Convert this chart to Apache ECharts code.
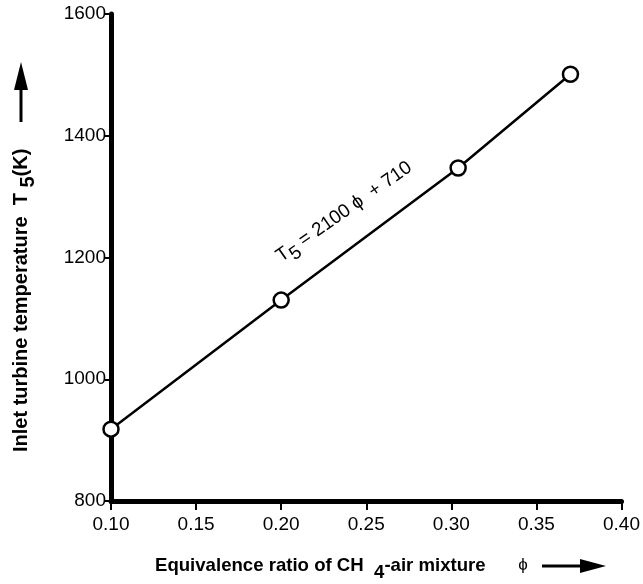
<!DOCTYPE html>
<html lang="en">
<head>
    <meta charset="UTF-8">
    <title>Inlet turbine temperature</title>
    <script src="https://cdn.jsdelivr.net/npm/echarts@6/dist/echarts.min.js"></script>
    <style>
        html, body { margin: 0; padding: 0; background: #fff; }
    </style>
</head>
<body>
    <div id="main" style="width: 643px;height: 584px"></div>
    <script type="text/javascript">
        // data
        var phi = [0.10, 0.20, 0.304, 0.370];
        var temp = [918, 1130, 1347, 1501];
        var xTicks = [0.10, 0.15, 0.20, 0.25, 0.30, 0.35, 0.40];
        var yTicks = [800, 1000, 1200, 1400, 1600];

        var font = '"Liberation Sans", Arial, sans-serif';
        var myChart = echarts.init(document.getElementById('main'));

        var points = phi.map(function (p, i) { return [p, temp[i]]; });

        var option = {
            backgroundColor: '#fff',
            animation: false,
            grid: { left: 111, right: 21, top: 14, bottom: 83 },
            xAxis: {
                type: 'value',
                min: xTicks[0],
                max: xTicks[xTicks.length - 1],
                interval: 0.05,
                axisLine: { show: true, lineStyle: { color: '#000', width: 5 } },
                axisTick: { show: true, length: 9, lineStyle: { color: '#000', width: 2 } },
                axisLabel: {
                    color: '#000', fontFamily: font, fontSize: 19, margin: 14,
                    formatter: function (v) { return v.toFixed(2); }
                },
                splitLine: { show: false }
            },
            yAxis: {
                type: 'value',
                min: yTicks[0],
                max: yTicks[yTicks.length - 1],
                interval: 200,
                axisLine: { show: true, lineStyle: { color: '#000', width: 5 } },
                axisTick: { show: true, length: 6, lineStyle: { color: '#000', width: 2 } },
                axisLabel: {
                    color: '#000', fontFamily: font, fontSize: 19, margin: 5,
                    formatter: function (v) { return String(v); }
                },
                splitLine: { show: false }
            },
            series: [{
                type: 'line',
                data: points,
                symbol: 'circle',
                symbolSize: 15,
                showAllSymbol: true,
                lineStyle: { color: '#000', width: 2.5 },
                itemStyle: { color: '#fff', borderColor: '#000', borderWidth: 2.5 },
                z: 3
            }]
        };
        myChart.setOption(option);

        // annotation placed in data coordinates, labels and arrows as decoration
        var eqPos = myChart.convertToPixel({ gridIndex: 0 }, [0.237, 1275]);
        var sub = {
            b: { fontFamily: font, fontSize: 18.6, fontWeight: 'bold', color: '#000' },
            s: { fontFamily: font, fontSize: 18.6, fontWeight: 'bold', color: '#000', padding: [14, 0, 0, 0] }
        };
        var ysub = {
            b: { fontFamily: font, fontSize: 20, fontWeight: 'bold', color: '#000' },
            s: { fontFamily: font, fontSize: 20, fontWeight: 'bold', color: '#000', padding: [14, 0, 0, 0] }
        };
        myChart.setOption({
            graphic: [
                {
                    type: 'text',
                    x: eqPos[0], y: eqPos[1],
                    rotation: 35 * Math.PI / 180,
                    style: {
                        text: '{n|T}{s|5}{n| = 2100 \u03d5  + 710}',
                        align: 'center', verticalAlign: 'middle',
                        rich: {
                            n: { fontFamily: font, fontSize: 19, color: '#000' },
                            s: { fontFamily: font, fontSize: 19, color: '#000', padding: [13, 0, 0, 0] }
                        }
                    }
                },
                {
                    type: 'text',
                    x: 21, y: 452,
                    rotation: Math.PI / 2,
                    style: {
                        text: '{b|Inlet turbine temperature  T }{s|5}{b|(K)}',
                        align: 'left', verticalAlign: 'middle',
                        rich: ysub
                    }
                },
                {
                    type: 'line', shape: { x1: 21, y1: 122, x2: 21, y2: 86 },
                    style: { stroke: '#000', lineWidth: 3 }
                },
                {
                    type: 'polygon', shape: { points: [[14, 90], [28, 90], [21, 62]] },
                    style: { fill: '#000' }
                },
                {
                    type: 'text',
                    x: 155, y: 566,
                    style: {
                        text: '{b|Equivalence ratio of CH  }{s|4}{b|-air mixture}',
                        align: 'left', verticalAlign: 'middle',
                        rich: sub
                    }
                },
                {
                    type: 'text',
                    x: 523, y: 565,
                    style: {
                        text: '\u03d5', align: 'center', verticalAlign: 'middle',
                        fontFamily: font, fontSize: 17, fill: '#000'
                    }
                },
                {
                    type: 'line', shape: { x1: 542, y1: 566, x2: 582, y2: 566 },
                    style: { stroke: '#000', lineWidth: 3 }
                },
                {
                    type: 'polygon', shape: { points: [[580, 559], [580, 573], [606, 566]] },
                    style: { fill: '#000' }
                }
            ]
        });

        window.addEventListener("resize", function () {
            myChart.resize();
        });
    </script>
</body>
</html>
